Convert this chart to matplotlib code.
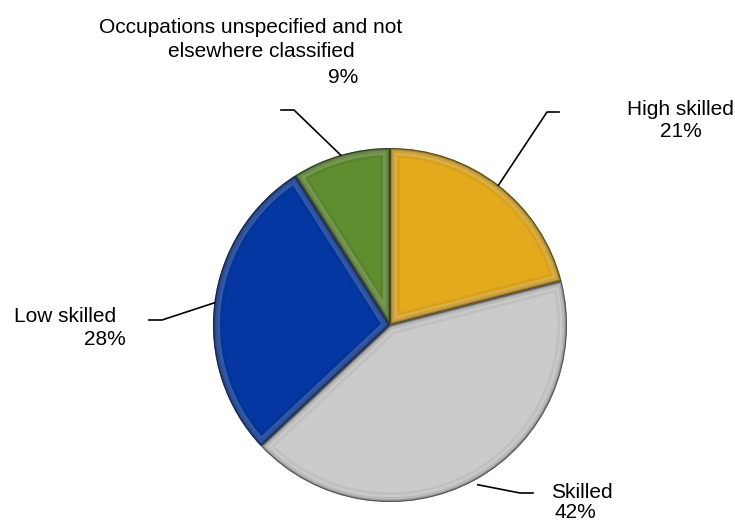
import numpy as np
import matplotlib.pyplot as plt
from matplotlib.patches import PathPatch

plt.rcParams['font.family'] = ['Liberation Sans', 'DejaVu Sans']

# 数据
labels = ['High skilled', 'Skilled', 'Low skilled',
          'Occupations unspecified and not\nelsewhere classified']
values = [21, 42, 28, 9]
colors = ['#E3AA1E', '#CBCBCB', '#0437A1', '#5F8D2F']
explode = [0, 0.03, 0, 0]

W, H = 735, 521
fig = plt.figure(figsize=(W / 100, H / 100), dpi=100)
ax = fig.add_axes([0, 0, 1, 1])

cx, cy, R = 390, H - 325, 177
wedges, _ = ax.pie(values, colors=colors, explode=explode, startangle=90,
                   counterclock=False, center=(cx, cy), radius=R,
                   wedgeprops=dict(edgecolor='none', linewidth=0))
ax.set_xlim(0, W)
ax.set_ylim(0, H)
ax.set_aspect('equal')
ax.axis('off')

# 斜面效果：沿每块边缘画裁剪过的描边，外暗内亮
for w in wedges:
    path, tr = w.get_path(), w.get_transform()
    for lw, col, a in [(10, 'white', 0.2), (14, 'black', 0.05),
                       (7, 'black', 0.08), (3.5, 'black', 0.18),
                       (1.6, 'black', 0.45)]:
        p = PathPatch(path, transform=tr, fill=False, edgecolor=col,
                      lw=lw, alpha=a)
        p.set_clip_path(w)
        ax.add_patch(p)

# 标签（基线位置）与引线拐点
text_pos = {
    0: [(680, 115, 'High skilled'), (681, 137, '21%')],
    1: [(582, 498, 'Skilled'), (575, 518, '42%')],
    2: [(65, 322, 'Low skilled'), (105, 345, '28%')],
    3: [(251, 33, 'Occupations unspecified and not'),
        (261, 57, 'elsewhere classified'), (343, 83, '9%')],
}
elbows = {
    0: [(547, 112), (559, 112)],
    1: [(520, 493), (533, 493)],
    2: [(162, 320), (149, 320)],
    3: [(294, 110), (281, 110)],
}
total = sum(values)
start = 90
for i, v in enumerate(values):
    mid = np.deg2rad(start - v / total * 360 / 2)
    start -= v / total * 360
    off = explode[i] * R
    px = cx + (R + off) * np.cos(mid)
    py = cy + (R + off) * np.sin(mid)
    pts = [(px, py)] + [(x, H - y) for x, y in elbows[i]]
    ax.plot([p[0] for p in pts], [p[1] for p in pts], color='black', lw=1.2)
    for x, y, s in text_pos[i]:
        ax.text(x, H - y, s, ha='center', va='baseline', fontsize=15)

fig.savefig('out.png', dpi=100)
